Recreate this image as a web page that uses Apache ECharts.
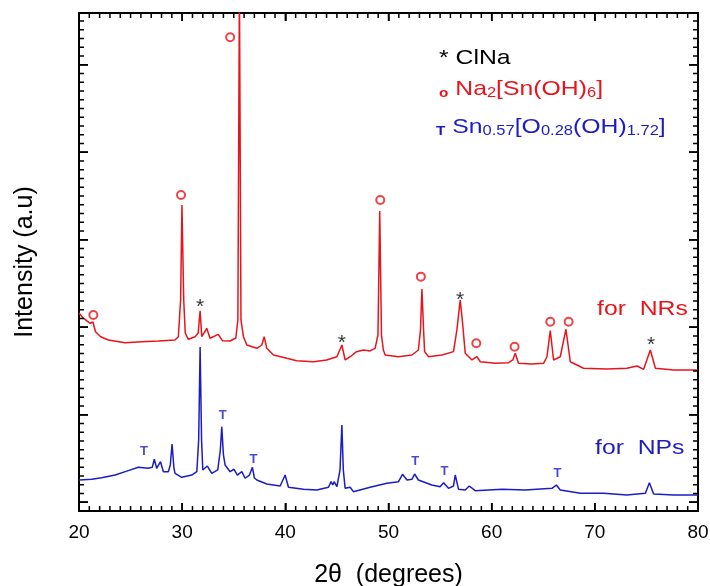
<!DOCTYPE html>
<html><head><meta charset="utf-8">
<script src="https://cdn.jsdelivr.net/npm/echarts@6/dist/echarts.min.js"></script>
<style>html,body{margin:0;padding:0;background:#fff}#c{width:710px;height:586px}</style>
</head><body><div id="c"></div>
<script>
// ---- data (2θ in degrees, intensity in arbitrary units) ----
const twoThetaNRs = [20.0,20.4,21.07,21.35,21.6,22.1,22.85,24.46,26.08,27.7,29.3,29.63,29.85,29.98,30.15,30.3,30.6,31.25,31.55,31.74,31.9,32.38,32.7,33.5,33.9,34.65,35.2,35.4,35.55,35.7,35.94,36.27,37.24,37.72,37.95,38.2,38.85,40.15,41.1,42.73,44.0,45.0,45.48,45.8,46.3,46.9,47.58,48.2,48.7,48.98,49.15,49.32,49.5,49.68,50.97,52.27,52.9,53.1,53.24,53.4,53.5,53.88,55.18,56.3,56.63,56.95,57.18,57.44,58.09,58.57,58.9,60.35,61.64,62.05,62.29,62.6,63.9,65.03,65.36,65.68,66.0,66.65,67.2,67.62,68.9,71.18,73.1,74.1,74.73,75.38,75.87,77.64,80.0];
const intensityNRs = [22.63,22.06,21.45,21.6,20.49,19.92,19.54,19.23,19.35,19.43,19.54,19.92,24.11,34.97,24.11,20.34,19.62,19.92,20.34,22.89,19.92,20.88,19.74,20.19,19.46,19.43,19.77,21.83,60,21.83,19.92,18.97,18.59,18.97,19.92,18.59,17.83,17.45,17.18,17.06,17.26,17.63,18.97,17.26,17.63,18.21,18.4,18.29,18.59,20.11,34.29,20.11,18.4,17.83,17.63,17.83,18.4,20.69,25.37,20.69,18.21,17.63,17.83,18.21,20.69,24.11,21.49,18.02,17.26,17.63,17.06,16.88,16.95,17.26,18.02,16.88,16.8,16.88,17.63,20.61,17.26,17.63,20.77,17.06,16.31,16.23,16.31,16.57,16.19,18.4,16.31,16.11,16.11];
const twoThetaNPs = [20.0,21.23,22.2,23.5,24.78,25.75,26.72,27.1,27.3,27.53,27.9,28.18,28.66,28.85,29.02,29.2,29.31,29.96,30.93,31.42,31.6,31.74,31.88,32.0,32.44,32.87,33.45,33.7,33.84,34.0,34.16,34.65,35.03,35.35,35.78,36.1,36.52,36.81,37.0,37.24,38.2,39.5,39.98,40.3,41.76,43.05,44.18,44.44,44.6,44.73,45.0,45.3,45.48,45.62,45.8,46.28,46.6,48.22,49.84,50.97,51.36,51.79,52.27,52.53,52.9,54.2,55.0,55.34,55.82,56.3,56.47,56.79,57.44,57.83,58.4,61.0,63.26,65.85,66.27,66.65,68.6,70.85,73.1,74.9,75.29,75.7,77.64,80.0];
const intensityNPs = [3.54,3.62,3.81,4.11,4.61,4.99,4.88,4.99,5.91,4.88,5.63,4.49,4.49,5.26,7.66,4.91,4.31,3.85,4.11,4.49,8.11,18.74,8.11,4.69,5.14,4.31,4.69,6.97,9.63,6.4,5.26,4.49,4.77,4.11,4.49,3.74,4.11,4.99,3.77,3.54,3.09,2.86,4.11,2.71,2.48,2.4,2.71,3.35,2.97,3.35,2.78,4.69,9.83,4.69,2.59,2.71,2.21,2.71,3.17,3.35,4.19,3.54,3.62,4.23,3.54,2.97,2.78,3.23,2.59,2.86,4.11,2.48,2.4,2.86,2.32,2.48,2.4,2.59,2.97,2.4,2.02,2.02,1.83,2.02,3.23,1.94,1.83,1.83];
// peak annotations
const peakO_x = [21.39,29.89,34.65,49.2,53.14,58.51,62.22,65.68,67.46];
const peakO_y = [22.4,36.11,54.14,35.54,26.78,19.17,18.78,21.63,21.63];
const peakStar_x = [31.74,45.48,56.95,75.45];
const peakStar_y = [23.81,19.77,24.69,19.54];
const peakT_x = [26.3,33.94,36.91,52.59,55.43,66.39];
const peakT_y = [6.86,10.97,5.94,5.63,4.57,4.34];
// axis ticks
const xTickLabels = ['20','30','40','50','60','70','80'];
const xMajorTicks = [20,30,40,50,60,70,80];
const yMajorTicks = [1,11,21,31,41,51];

const FONT = '"Liberation Sans", Arial, sans-serif';
const RED = '#e8141b', BLUE = '#1c1cc4';
const X_MIN = 20, X_MAX = 80, Y_MAX = 56.91;
const GRID = {left: 79, right: 12, top: 13, bottom: 75};
const zip = (xs, ys) => xs.map((x, i) => [x, ys[i]]);
const range = (a, b) => { const r = []; for (let v = a; v <= b; v++) r.push(v); return r; };
const xMinorTicks = range(21, 79).filter(v => v % 10 !== 0);
const yMinorTicks = range(0, 56).filter(v => (v - 1) % 10 !== 0);

// tick lengths expressed in each axis' own units (pixels / pixels-per-unit)
const PX_PER_DEG = (710 - GRID.left - GRID.right) / (X_MAX - X_MIN);
const PX_PER_UNIT = (586 - GRID.top - GRID.bottom) / Y_MAX;
const GAP = '-';
function frameTickSegments() {
  const seg = [];
  const addX = (values, lenPx) => values.forEach(v => {
    const d = lenPx / PX_PER_UNIT;
    seg.push([v, 0], [v, d], [v, GAP]);
    seg.push([v, Y_MAX], [v, Y_MAX - d], [v, GAP]);
  });
  const addY = (values, lenPx) => values.forEach(v => {
    const d = lenPx / PX_PER_DEG;
    seg.push([X_MIN, v], [X_MIN + d, v], [X_MIN, GAP]);
    seg.push([X_MAX, v], [X_MAX - d, v], [X_MAX, GAP]);
  });
  addX(xMinorTicks, 5);
  addX(xMajorTicks.slice(1, -1), 8);
  addY(yMinorTicks, 5);
  addY(yMajorTicks, 9);
  return seg;
}

function xAx(pos, showLabel) {
  return {
    type: 'value', position: pos, min: X_MIN, max: X_MAX, interval: 10,
    axisLine: {show: true, onZero: false, lineStyle: {color: '#000', width: 2}},
    axisTick: {show: true, inside: true, length: 8, customValues: xMajorTicks, lineStyle: {color: '#000', width: 1.5}},
    axisLabel: {show: showLabel, fontSize: 19, color: '#000', fontFamily: FONT, margin: 12,
                formatter: v => xTickLabels[Math.round((v - X_MIN) / 10)] || ''},
    splitLine: {show: false},
    name: showLabel ? '2θ  (degrees)' : '',
    nameLocation: 'middle', nameGap: 52,
    nameTextStyle: {fontSize: 25, color: '#000', fontFamily: FONT}
  };
}
function yAx(pos, name) {
  return {
    type: 'value', position: pos, min: 0, max: Y_MAX,
    axisLine: {show: true, onZero: false, lineStyle: {color: '#000', width: 2}},
    axisTick: {show: true, inside: true, length: 9, customValues: yMajorTicks, lineStyle: {color: '#000', width: 1.5}},
    axisLabel: {show: false},
    splitLine: {show: false},
    name: name || '', nameLocation: 'middle', nameGap: 41,
    nameTextStyle: {fontSize: 25, color: '#000', fontFamily: FONT}
  };
}

const richStyles = {
  m: {fontSize: 21, fontFamily: FONT, lineHeight: 40, verticalAlign: 'bottom'},
  s: {fontSize: 14, fontFamily: FONT, lineHeight: 17, verticalAlign: 'bottom'},
  k: {fontSize: 13, fontWeight: 'bold', fontFamily: FONT, lineHeight: 34.4, verticalAlign: 'bottom'}
};
const HIDDEN = 'rgba(0,0,0,0)';

const textGraphics = [
  {id: 'lg0', type: 'text', x: 439, y: 28.7, scaleX: 1.18, z: 100,
   style: {text: '{m|* ClNa}', rich: richStyles, fill: '#000', fontFamily: FONT, fontSize: 21, verticalAlign: 'top', align: 'left'}},
  {id: 'lg1', type: 'text', x: 439, y: 59.7, scaleX: 1.18, z: 100,
   style: {text: '{k|o}{m| Na}{s|2}{m|[Sn(OH)}{s|6}{m|]}', rich: richStyles, fill: RED, fontFamily: FONT, fontSize: 21, verticalAlign: 'top', align: 'left'}},
  {id: 'lg2', type: 'text', x: 436, y: 97.7, scaleX: 1.18, z: 100,
   style: {text: '{k|T}{m| Sn}{s|0.57}{m|[O}{s|0.28}{m|(OH)}{s|1.72}{m|]}', rich: richStyles, fill: BLUE, fontFamily: FONT, fontSize: 21, verticalAlign: 'top', align: 'left'}},
  {id: 'nr', type: 'text', x: 597, y: 309.4, scaleX: 1.18, z: 100,
   style: {text: 'for  NRs', fill: RED, fontFamily: FONT, fontSize: 21, verticalAlign: 'middle', align: 'left'}},
  {id: 'np', type: 'text', x: 595, y: 448.7, scaleX: 1.18, z: 100,
   style: {text: 'for  NPs', fill: BLUE, fontFamily: FONT, fontSize: 21, verticalAlign: 'middle', align: 'left'}}
];

const chart = echarts.init(document.getElementById('c'));
chart.setOption({
  animation: false,
  backgroundColor: '#fff',
  grid: Object.assign({outerBoundsMode: 'none', containLabel: false}, GRID),
  xAxis: [xAx('bottom', true), xAx('top', false)],
  yAxis: [yAx('left', 'Intensity (a.u)'), yAx('right')],
  series: [
    {type: 'line', name: 'frame ticks', data: frameTickSegments(), showSymbol: false, symbol: 'none',
     connectNulls: false, clip: false, silent: true, z: 6,
     lineStyle: {color: '#000', width: 1.5}, itemStyle: {color: '#000'}, emphasis: {disabled: true}},
    {type: 'line', name: 'for NRs', data: zip(twoThetaNRs, intensityNRs), showSymbol: false, clip: true,
     lineStyle: {color: RED, width: 1.5}, itemStyle: {color: RED}, silent: true},
    {type: 'line', name: 'for NPs', data: zip(twoThetaNPs, intensityNPs), showSymbol: false, clip: true,
     lineStyle: {color: BLUE, width: 1.5}, itemStyle: {color: BLUE}, silent: true},
    {type: 'scatter', name: 'Na2[Sn(OH)6]', data: zip(peakO_x, peakO_y), symbol: 'circle', symbolSize: 8,
     itemStyle: {color: '#fff', borderColor: RED, borderWidth: 2}, silent: true, z: 5},
    {type: 'scatter', name: 'ClNa', data: zip(peakStar_x, peakStar_y), symbolSize: 2,
     itemStyle: {color: HIDDEN}, silent: true, z: 5,
     label: {show: true, position: 'inside', formatter: '*', fontSize: 21, fontFamily: FONT, color: '#000', offset: [0, 5]}},
    {type: 'scatter', name: 'Sn0.57[O0.28(OH)1.72]', data: zip(peakT_x, peakT_y), symbolSize: 2,
     itemStyle: {color: HIDDEN}, silent: true, z: 5,
     label: {show: true, position: 'inside', formatter: 'T', fontSize: 13, fontWeight: 'bold', fontFamily: FONT, color: BLUE}}
  ],
  graphic: textGraphics
});
</script></body></html>
